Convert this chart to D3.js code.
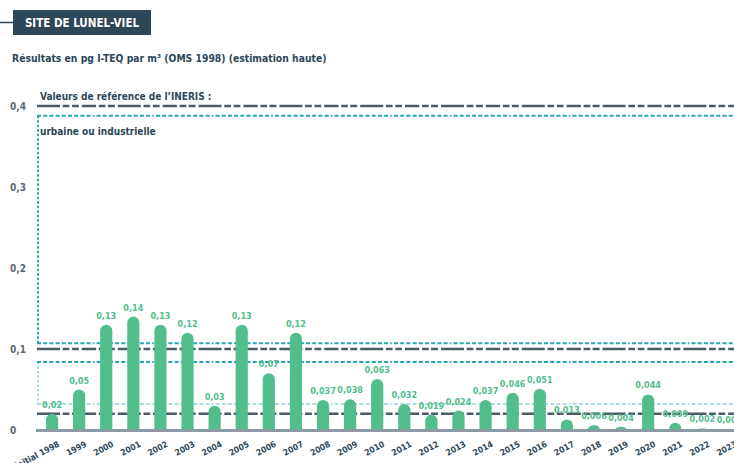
<!DOCTYPE html>
<html>
<head>
<meta charset="utf-8">
<script src="https://cdn.jsdelivr.net/npm/d3@7"></script>
<style>
  html, body { margin: 0; padding: 0; background: #fff; }
  svg { display: block; }
  text { font-family: "Liberation Sans Narrow", "DejaVu Sans Condensed", "Roboto", sans-serif; font-weight: bold; }
</style>
</head>
<body>
<svg id="chart" width="734" height="463"></svg>
<script>
// Campaign labels (first one is the reference state before operation)
const campaigns = ["État initial 1998", "1999", "2000", "2001", "2002", "2003", "2004", "2005", "2006",
  "2007", "2008", "2009", "2010", "2011", "2012", "2013", "2014", "2015", "2016", "2017",
  "2018", "2019", "2020", "2021", "2022", "2023"];
// Dioxin deposition results, pg I-TEQ per m² (WHO 1998, upper bound)
const results = [0.02, 0.05, 0.13, 0.14, 0.13, 0.12, 0.03, 0.13, 0.07,
  0.12, 0.037, 0.038, 0.063, 0.032, 0.019, 0.024, 0.037, 0.046, 0.051, 0.013,
  0.006, 0.004, 0.044, 0.009, 0.002, 0.001];
// INERIS reference values
const referenceValues = [0.4, 0.1, 0.02];
// Bracketed ranges: urban/industrial and rural
const urbanRange = [0.107, 0.388];
const ruralRange = [0.032, 0.084];
const yTicks = [0, 0.1, 0.2, 0.3, 0.4];

const svg = d3.select("#chart");
const slate = "#2d4759";
const green = "#52bd8d";
const teal = "#28a6ad";
const darkLine = "#4b5b67";

const x = d3.scaleBand().domain(campaigns).range([38.5, 743]).paddingInner(0.55).paddingOuter(0.275);
const y = d3.scaleLinear().domain([0, 0.4]).range([430, 106]);

const fr = v => String(v).replace(".", ",");

// Header block
svg.append("line").attr("x1", 0).attr("x2", 14).attr("y1", 22.5).attr("y2", 22.5)
  .attr("stroke", slate).attr("stroke-width", 1.5);
svg.append("rect").attr("x", 13).attr("y", 10).attr("width", 138).attr("height", 25).attr("fill", slate);
svg.append("text").attr("x", 82).attr("y", 27).attr("text-anchor", "middle")
  .attr("fill", "#fff").attr("font-size", 11.5).text("SITE DE LUNEL-VIEL");
svg.append("text").attr("x", 12).attr("y", 62).attr("fill", slate).attr("font-size", 10.3)
  .text("Résultats en pg I-TEQ par m³ (OMS 1998) (estimation haute)");

// Y axis tick labels
const yAxis = d3.axisLeft(y).tickValues(yTicks).tickSize(0).tickPadding(0)
  .tickFormat(d => d === 0 ? "0" : d3.format(".1f")(d).replace(".", ","));
const gy = svg.append("g").attr("transform", "translate(10,0)").call(yAxis);
gy.select(".domain").remove();
gy.selectAll("text").attr("text-anchor", "start").attr("x", 0).attr("dy", "0.35em")
  .attr("fill", "#5c6870").attr("font-size", 10).style("font-family", null);

// Bracket outlines (teal dotted)
const tealDash = "4,2.2,4,2.2,4,2.2,4,2.2,4,2.2,4,2.2,4,2.2,4,2.2,4,2.2,1.5,2.2";
const hLine = (v, opacity, width) => svg.append("line")
  .attr("x1", 37).attr("x2", 734).attr("y1", y(v)).attr("y2", y(v))
  .attr("stroke", teal).attr("stroke-width", width).attr("stroke-opacity", opacity)
  .attr("stroke-dasharray", tealDash);
const vLine = (range, opacity, width) => svg.append("line")
  .attr("x1", 38).attr("x2", 38).attr("y1", y(range[1])).attr("y2", y(range[0]))
  .attr("stroke", teal).attr("stroke-width", width).attr("stroke-opacity", opacity)
  .attr("stroke-dasharray", "2.5,2");
hLine(urbanRange[1], 1, 2);
hLine(urbanRange[0], 1, 2);
vLine(urbanRange, 1, 2);
hLine(ruralRange[1], 1, 2);
hLine(ruralRange[0], 0.5, 1.5);
vLine(ruralRange, 0.5, 1.5);

// Reference lines (dark dashes)
svg.selectAll("line.ref").data(referenceValues).join("line").attr("class", "ref")
  .attr("x1", 37).attr("x2", 734).attr("y1", d => y(d)).attr("y2", d => y(d))
  .attr("stroke", darkLine).attr("stroke-width", 2.5)
  .attr("stroke-dasharray", "23,2.7,6.7,2.7,6.7,3,14.3,2.7,6.7,2.3,7,3");

svg.append("text").attr("x", 40).attr("y", 100).attr("fill", slate).attr("font-size", 10)
  .text("Valeurs de référence de l’INERIS :");
svg.append("text").attr("x", 40).attr("y", 135).attr("fill", slate).attr("font-size", 10)
  .text("urbaine ou industrielle");

// Bars with rounded tops
const bw = x.bandwidth();
const r = bw / 2;
svg.selectAll("path.bar").data(campaigns).join("path").attr("class", "bar")
  .attr("fill", green)
  .attr("d", (c, i) => {
    const x0 = x(c), x1 = x0 + bw, top = y(results[i]), base = y(0);
    const h = base - top;
    const rr = Math.min(r, h);
    return `M${x0},${base} L${x0},${top + rr} A${r},${rr} 0 0 1 ${x1},${top + rr} L${x1},${base} Z`;
  });

// Baseline
svg.append("line").attr("x1", 36).attr("x2", 734).attr("y1", 430.5).attr("y2", 430.5)
  .attr("stroke", "#8b9aa3").attr("stroke-width", 3);

// Value labels
svg.selectAll("text.val").data(campaigns).join("text").attr("class", "val")
  .attr("x", c => x(c) + bw / 2)
  .attr("y", (c, i) => y(results[i]) - 6)
  .attr("text-anchor", "middle").attr("fill", green).attr("font-size", 9)
  .text((c, i) => fr(results[i]));

// Category labels, slanted
svg.selectAll("text.cat").data(campaigns).join("text").attr("class", "cat")
  .attr("transform", c => `translate(${x(c) + bw / 2 + 8},${446}) rotate(-28)`)
  .attr("text-anchor", "end").attr("fill", slate).attr("font-size", 8.5)
  .text(c => c);
</script>
</body>
</html>
